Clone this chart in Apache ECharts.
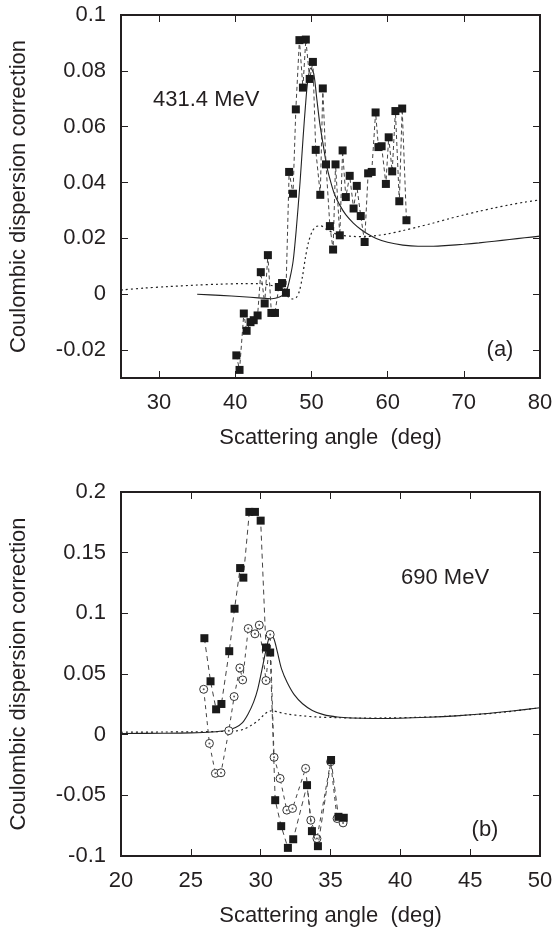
<!DOCTYPE html>
<html><head><meta charset="utf-8">
<script src="https://cdn.jsdelivr.net/npm/echarts@6.0.0/dist/echarts.min.js"></script>
<style>html,body{margin:0;padding:0;background:#fff}#c{width:556px;height:928px}</style>
</head><body><div id="c"></div>
<script>
// ---------- Panel (a): 431.4 MeV ----------
const aTicksX = [30, 40, 50, 60, 70, 80];
const aTicksY = [-0.02, 0, 0.02, 0.04, 0.06, 0.08, 0.1];
const aDataX = [40.14,40.56,41.12,41.49,42.0,42.42,42.93,43.35,43.86,44.28,44.74,45.21,45.72,46.14,46.65,47.07,47.58,47.95,48.42,48.88,49.26,49.77,50.19,50.56,51.16,51.49,51.91,52.42,52.84,53.16,53.72,54.09,54.51,55.02,55.53,55.95,56.47,56.98,57.44,57.91,58.42,58.79,59.21,59.77,60.14,60.60,61.02,61.53,61.91,62.47];
const aDataY = [-0.0219,-0.0271,-0.0069,-0.0131,-0.0100,-0.0093,-0.0076,0.0079,-0.0033,0.0140,-0.0067,-0.0067,0.0026,0.0040,0.0005,0.0438,0.0360,0.0662,0.0910,0.0740,0.0912,0.0771,0.0832,0.0517,0.0356,0.0737,0.0465,0.0244,0.0160,0.0465,0.0211,0.0515,0.0348,0.0424,0.0307,0.0388,0.0280,0.0187,0.0433,0.0438,0.0651,0.0527,0.0530,0.0395,0.0562,0.0440,0.0656,0.0333,0.0665,0.0265];
const aSolidX = [35,38,41,43,44.8,45.8,46.4,46.8,47.2,47.6,48.0,48.5,48.9,49.2,49.5,49.9,50.3,50.7,51.1,51.6,52.0,52.5,53.0,53.7,54.5,55.5,56.5,57.5,58.5,60,62,64,66,68,70,72,74,76,78,80];
const aSolidY = [0,-0.0004,-0.0009,-0.0013,-0.0016,-0.0010,0.0000,0.0018,0.0060,0.0120,0.0230,0.0400,0.0560,0.0670,0.0760,0.0810,0.0790,0.0700,0.0610,0.0525,0.0460,0.0405,0.0360,0.0320,0.0285,0.0255,0.0232,0.0214,0.0200,0.0186,0.0176,0.0172,0.0172,0.0175,0.0179,0.0184,0.0190,0.0196,0.0202,0.0208];
const aDotX = [25,28,31,35,38,41,43,44.5,45.5,46.3,46.9,47.5,48.0,48.4,48.8,49.2,49.6,50.1,50.6,51.2,52,53,54,55.5,57,58.5,60,62,64,66,68,70,72,74,76,78,80];
const aDotY = [0.0015,0.0022,0.0027,0.0033,0.0036,0.0038,0.0038,0.0033,0.0024,0.0008,-0.0008,-0.0017,-0.0012,0.0010,0.0060,0.0130,0.0185,0.0225,0.0242,0.0245,0.0232,0.0218,0.0211,0.0207,0.0206,0.0210,0.0216,0.0228,0.0241,0.0255,0.0270,0.0284,0.0297,0.0309,0.0320,0.0330,0.0338];

// ---------- Panel (b): 690 MeV ----------
const bSqX = [25.97,26.41,26.81,27.19,27.75,28.13,28.53,28.76,29.19,29.59,30.0,30.38,30.68,31.04,31.47,31.95,32.33,33.32,33.67,34.10,35.04,35.57,35.95];
const bSqY = [0.0795,0.0440,0.0209,0.0253,0.0688,0.1038,0.1373,0.1294,0.1836,0.1836,0.1764,0.0718,0.0677,-0.0540,-0.0754,-0.0933,-0.0862,-0.0416,-0.0795,-0.0919,-0.0209,-0.0677,-0.0685];
const bCircX = [25.92,26.33,26.76,27.16,27.72,28.10,28.51,28.71,29.11,29.59,29.90,30.38,30.68,30.96,31.39,31.87,32.28,33.22,33.59,34.03,35.01,35.47,35.90];
const bCircY = [0.0374,-0.0072,-0.0319,-0.0314,0.0033,0.0314,0.0550,0.0451,0.0875,0.0831,0.0903,0.0446,0.0826,-0.0187,-0.0361,-0.0622,-0.0608,-0.0278,-0.0705,-0.0856,-0.0223,-0.0691,-0.0727];
const bSolidX = [20,23,25,26.5,27.5,28.2,28.7,29.1,29.5,29.8,30.1,30.35,30.6,30.75,30.95,31.2,31.5,31.9,32.4,33,33.7,34.5,35.5,36.5,38,40,42,44,46,48,50];
const bSolidY = [0.0010,0.0012,0.0015,0.0022,0.0035,0.0060,0.0100,0.0170,0.0270,0.0380,0.0540,0.0680,0.0800,0.0822,0.0790,0.0680,0.0540,0.0430,0.0330,0.0255,0.0200,0.0165,0.0145,0.0137,0.0133,0.0135,0.0143,0.0155,0.0172,0.0195,0.0222];
const bDotX = [20,23,25,27,28.2,28.8,29.3,29.8,30.2,30.5,30.8,31.3,32,33,34,35.5,37,39,41,43,45,47,50];
const bDotY = [0.0020,0.0022,0.0023,0.0026,0.0030,0.0045,0.0075,0.0115,0.0160,0.0188,0.0197,0.0185,0.0168,0.0155,0.0146,0.0140,0.0137,0.0138,0.0142,0.0150,0.0163,0.0180,0.0222];

const xTitle = 'Scattering angle  (deg)';
const yTitle = 'Coulombic dispersion correction';

function zip(xs, ys) { return xs.map((x, i) => [x, ys[i]]); }

const FONT = '"Liberation Sans", Arial, Helvetica, sans-serif';
const TXT = '#231f20';
const FS = 22;

const chart = echarts.init(document.getElementById('c'));

const tickStyle = { show: true, inside: true, length: 7, lineStyle: { color: TXT, width: 1 } };
const noLine = { show: false, onZero: false };

function xAxisPair(gi, min, max, ticks, interval) {
  const base = { gridIndex: gi, type: 'value', min: min, max: max, splitLine: { show: false }, axisLine: noLine };
  if (ticks) {
    base.axisTick = Object.assign({ customValues: ticks }, tickStyle);
  } else {
    base.interval = interval;
    base.axisTick = Object.assign({}, tickStyle);
  }
  const bottom = Object.assign({}, base, {
    position: 'bottom',
    axisLabel: Object.assign({ fontSize: FS, fontFamily: FONT, color: TXT, margin: 14 }, ticks ? { customValues: ticks } : {}),
    name: xTitle, nameLocation: 'middle', nameGap: 49,
    nameTextStyle: { fontSize: FS, fontFamily: FONT, color: TXT }
  });
  const top = Object.assign({}, base, { position: 'top', axisLabel: { show: false } });
  return [bottom, top];
}
function yAxisPair(gi, min, max, ticks, interval) {
  const base = { gridIndex: gi, type: 'value', min: min, max: max, splitLine: { show: false }, axisLine: noLine };
  if (ticks) {
    base.axisTick = Object.assign({ customValues: ticks }, tickStyle);
  } else {
    base.interval = interval;
    base.axisTick = Object.assign({}, tickStyle);
  }
  const left = Object.assign({}, base, {
    position: 'left',
    axisLabel: Object.assign({ fontSize: FS, fontFamily: FONT, color: TXT, margin: 15 }, ticks ? { customValues: ticks } : {}),
    name: yTitle, nameLocation: 'middle', nameGap: 91, nameRotate: 90,
    nameTextStyle: { fontSize: FS, fontFamily: FONT, color: TXT }
  });
  const right = Object.assign({}, base, { position: 'right', axisLabel: { show: false } });
  return [left, right];
}

const xAxes = [].concat(xAxisPair(0, 25, 80, aTicksX), xAxisPair(1, 20, 50, null, 5));
const yAxes = [].concat(yAxisPair(0, -0.03, 0.1, aTicksY), yAxisPair(1, -0.1, 0.2, null, 0.05));

const gridStyle = { show: true, borderColor: TXT, borderWidth: 2, backgroundColor: 'transparent' };

function curve(xi, yi, xs, ys, dash, width) {
  return { type: 'line', xAxisIndex: xi, yAxisIndex: yi, data: zip(xs, ys), symbol: 'none', smooth: 0.3,
    lineStyle: { color: '#222', width: width, type: dash }, z: 2, silent: true };
}

const option = {
  animation: false,
  backgroundColor: '#fff',
  grid: [
    Object.assign({ left: 121, top: 15, width: 419, height: 363 }, gridStyle),
    Object.assign({ left: 121, top: 492, width: 419, height: 364 }, gridStyle)
  ],
  xAxis: xAxes,
  yAxis: yAxes,
  series: [
    curve(0, 0, aDotX, aDotY, [2, 3], 1.2),
    curve(0, 0, aSolidX, aSolidY, 'solid', 1.1),
    { type: 'line', xAxisIndex: 0, yAxisIndex: 0, data: zip(aDataX, aDataY), symbol: 'rect', symbolSize: 8,
      lineStyle: { color: '#444', width: 1, type: [4, 3] }, itemStyle: { color: '#1a1a1a' }, z: 3 },
    curve(2, 2, bDotX, bDotY, [2, 3], 1.2),
    curve(2, 2, bSolidX, bSolidY, 'solid', 1.1),
    { type: 'line', xAxisIndex: 2, yAxisIndex: 2, data: zip(bCircX, bCircY), symbol: 'circle', symbolSize: 8,
      lineStyle: { color: '#444', width: 1, type: [4, 4] }, itemStyle: { color: '#fff', borderColor: '#333', borderWidth: 1 }, z: 3 },
    { type: 'scatter', xAxisIndex: 2, yAxisIndex: 2, data: zip(bCircX, bCircY), symbol: 'circle', symbolSize: 2,
      itemStyle: { color: '#333' }, z: 4 },
    { type: 'line', xAxisIndex: 2, yAxisIndex: 2, data: zip(bSqX, bSqY), symbol: 'rect', symbolSize: 8,
      lineStyle: { color: '#444', width: 1, type: [5, 4] }, itemStyle: { color: '#1a1a1a' }, z: 5 }
  ],
  graphic: [
    { type: 'text', x: 153, y: 100, style: { text: '431.4 MeV', fontSize: FS, fontFamily: FONT, fill: TXT, verticalAlign: 'middle', align: 'left' } },
    { type: 'text', x: 500, y: 350, style: { text: '(a)', fontSize: FS, fontFamily: FONT, fill: TXT, verticalAlign: 'middle', align: 'center' } },
    { type: 'text', x: 401, y: 578, style: { text: '690 MeV', fontSize: FS, fontFamily: FONT, fill: TXT, verticalAlign: 'middle', align: 'left' } },
    { type: 'text', x: 485, y: 830, style: { text: '(b)', fontSize: FS, fontFamily: FONT, fill: TXT, verticalAlign: 'middle', align: 'center' } }
  ]
};
chart.setOption(option);
</script>
</body></html>
